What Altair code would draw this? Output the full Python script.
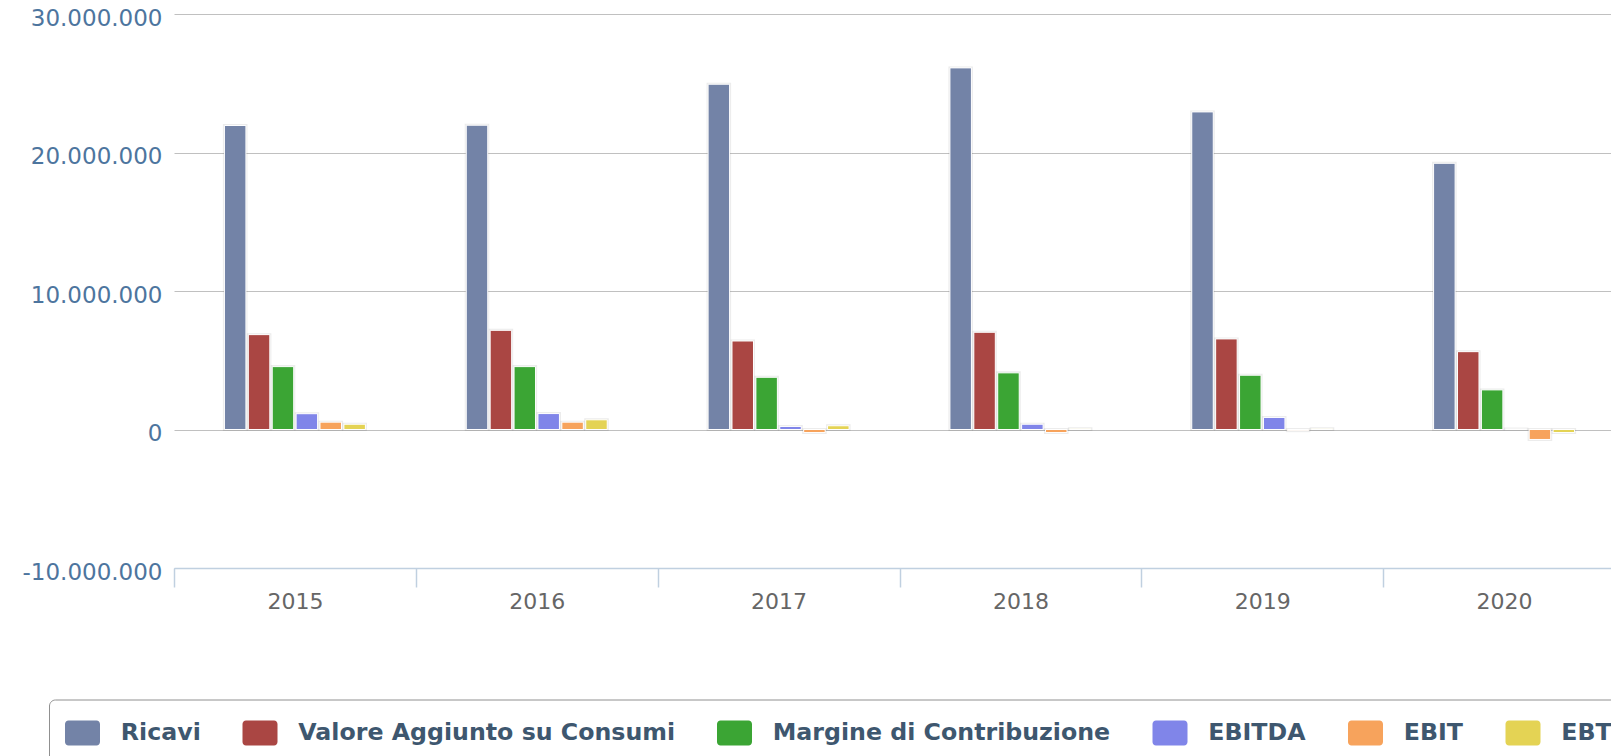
import altair as alt
import pandas as pd

years = ["2015", "2016", "2017", "2018", "2019", "2020"]
series = ["Ricavi", "Valore Aggiunto su Consumi", "Margine di Contribuzione",
          "EBITDA", "EBIT", "EBT"]
colors = ["#7383A7", "#AA4643", "#3BA534", "#8085E9", "#F7A35C", "#E4D354"]

ricavi = [21950000, 21970000, 24930000, 26110000, 22930000, 19220000]
valore_aggiunto = [6850000, 7160000, 6390000, 7020000, 6540000, 5620000]
margine = [4540000, 4540000, 3770000, 4090000, 3920000, 2860000]
ebitda = [1140000, 1150000, 220000, 380000, 870000, 30000]
ebit = [530000, 530000, -220000, -220000, -80000, -720000]
ebt = [380000, 700000, 270000, 50000, 50000, -220000]

y_ticks = [-10000000, 0, 10000000, 20000000, 30000000]

all_vals = [ricavi, valore_aggiunto, margine, ebitda, ebit, ebt]
rows = []
for i, yr in enumerate(years):
    for s, vals in zip(series, all_vals):
        rows.append({"Anno": yr, "Serie": s, "Valore": vals[i]})
df = pd.DataFrame(rows)

font = "DejaVu Sans"
legend_path = ("M-0.8,-0.714 H0.8 A0.2,0.2 0 0 1 1,-0.514 V0.514 "
               "A0.2,0.2 0 0 1 0.8,0.714 H-0.8 A0.2,0.2 0 0 1 -1,0.514 "
               "V-0.514 A0.2,0.2 0 0 1 -0.8,-0.714 Z")

half_step = 120.9

x_enc = alt.X(
    "Anno:N", sort=years,
    scale=alt.Scale(range=[0, 1451], paddingInner=0.417, paddingOuter=0.2085),
    axis=alt.Axis(title=None, labelAngle=0, tickSize=19, tickOffset=-half_step,
                  labelOffset=half_step,
                  tickColor="#C0D0E0", tickWidth=1.5, domainColor="#C0D0E0",
                  domainWidth=1.5, labelFontSize=22, labelColor="#666666",
                  labelPadding=4, labelFont=font, grid=False),
)
xoff_enc = alt.XOffset("Serie:N", sort=series,
                       scale=alt.Scale(paddingInner=0.1, paddingOuter=0))
y_enc = alt.Y(
    "Valore:Q",
    scale=alt.Scale(domain=[-10000000, 30000000], nice=False),
    axis=alt.Axis(values=y_ticks, title=None, domain=False, ticks=False,
                  gridColor="#C0C0C0", gridWidth=1,
                  labelExpr="replace(replace(format(datum.value, ','), regexp(',', 'g'), '.'), '\u2212', '-')",
                  labelColor="#4D759E", labelFontSize=23, labelFont=font,
                  labelPadding=12, labelOffset=4),
)

base = alt.Chart(df)

shadow = base.mark_bar(color="#000000", opacity=0.07, xOffset=2,
                       stroke="#000000", strokeWidth=3).encode(
    x=x_enc, xOffset=xoff_enc, y=y_enc
)

bars = base.mark_bar(stroke="white", strokeWidth=1).encode(
    x=x_enc,
    xOffset=xoff_enc,
    y=y_enc,
    color=alt.Color(
        "Serie:N", sort=series,
        scale=alt.Scale(domain=series, range=colors),
        legend=alt.Legend(
            title=None, orient="none", legendX=-125, legendY=685.5,
            direction="horizontal", columns=6,
            symbolType=legend_path, symbolSize=1225, symbolStrokeWidth=0,
            symbolOpacity=1,
            labelFontSize=23.7, labelFontWeight="bold", labelColor="#3E576F",
            labelFont=font, labelOffset=20.8, columnPadding=41.5, padding=16,
            strokeColor="#909090", cornerRadius=6, fillColor="white",
            labelLimit=800,
        ),
    ),
)

chart = (shadow + bars).properties(
    width=1437, height=554,
    autosize=alt.AutoSizeParams(type="none"),
    padding={"left": 174, "top": 14, "right": 0, "bottom": 188},
    background="white",
).configure_view(stroke=None)

chart.save("out.html", embed_options={"renderer": "svg", "actions": False})
